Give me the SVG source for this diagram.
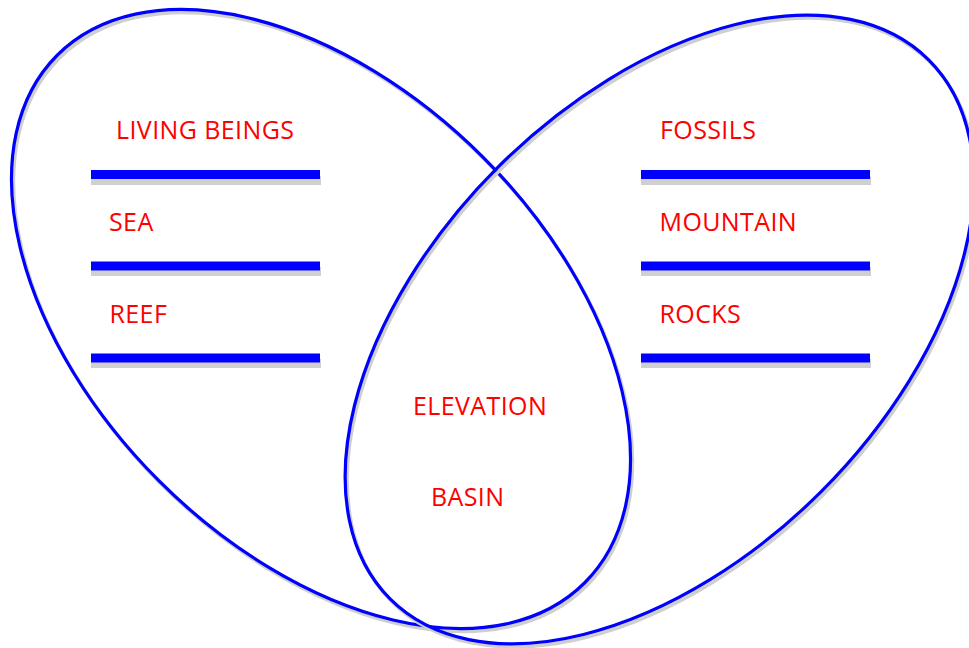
<svg xmlns="http://www.w3.org/2000/svg" width="969" height="648" viewBox="0 0 969 648">
<style>
.sh{fill:none;stroke:#cfcfcf;stroke-width:3.5}
.ov{fill:none;stroke:#0000ff;stroke-width:3.2}
.bar{fill:#0000ff}
.bsh{fill:#d0d0d0}
.t{font-family:"Open Sans","Liberation Sans",sans-serif;font-size:25px;letter-spacing:0.4px;fill:#ff0000}
</style>
<rect width="969" height="648" fill="#ffffff"/>
<g id="connectors"></g>
<g id="left-set">
<ellipse class="sh" cx="323" cy="322" rx="373" ry="229" transform="rotate(45 323 322)"/>
<ellipse class="ov" cx="321" cy="319" rx="373" ry="229" transform="rotate(45 321 319)"/>
</g>
<g id="right-set">
<ellipse class="sh" cx="661.5" cy="332.5" rx="381" ry="229" transform="rotate(-45 661.5 332.5)"/>
<ellipse class="ov" cx="659.5" cy="329.5" rx="381" ry="229" transform="rotate(-45 659.5 329.5)"/>
</g>
<g id="left-bars">
<rect class="bsh" x="91" y="176" width="230" height="9"/>
<rect class="bar" x="91" y="170" width="229" height="9"/>
<rect class="bsh" x="91" y="267" width="230" height="9"/>
<rect class="bar" x="91" y="261.5" width="229" height="9"/>
<rect class="bsh" x="91" y="359" width="230" height="9"/>
<rect class="bar" x="91" y="353.5" width="229" height="9"/>
</g>
<g id="right-bars">
<rect class="bsh" x="641" y="176" width="230" height="9"/>
<rect class="bar" x="641" y="170" width="229" height="9"/>
<rect class="bsh" x="641" y="267" width="230" height="9"/>
<rect class="bar" x="641" y="261.5" width="229" height="9"/>
<rect class="bsh" x="641" y="359" width="230" height="9"/>
<rect class="bar" x="641" y="353.5" width="229" height="9"/>
</g>
<g id="living-beings"><text class="t" x="116" y="139">LIVING BEINGS</text></g>
<g id="sea"><text class="t" x="109" y="231">SEA</text></g>
<g id="reef"><text class="t" x="109.5" y="322.5">REEF</text></g>
<g id="fossils"><text class="t" x="660" y="139">FOSSILS</text></g>
<g id="mountain"><text class="t" x="659.5" y="231">MOUNTAIN</text></g>
<g id="rocks"><text class="t" x="659.5" y="322.5">ROCKS</text></g>
<g id="elevation"><text class="t" x="413" y="415">ELEVATION</text></g>
<g id="basin"><text class="t" x="431" y="506">BASIN</text></g>
</svg>
